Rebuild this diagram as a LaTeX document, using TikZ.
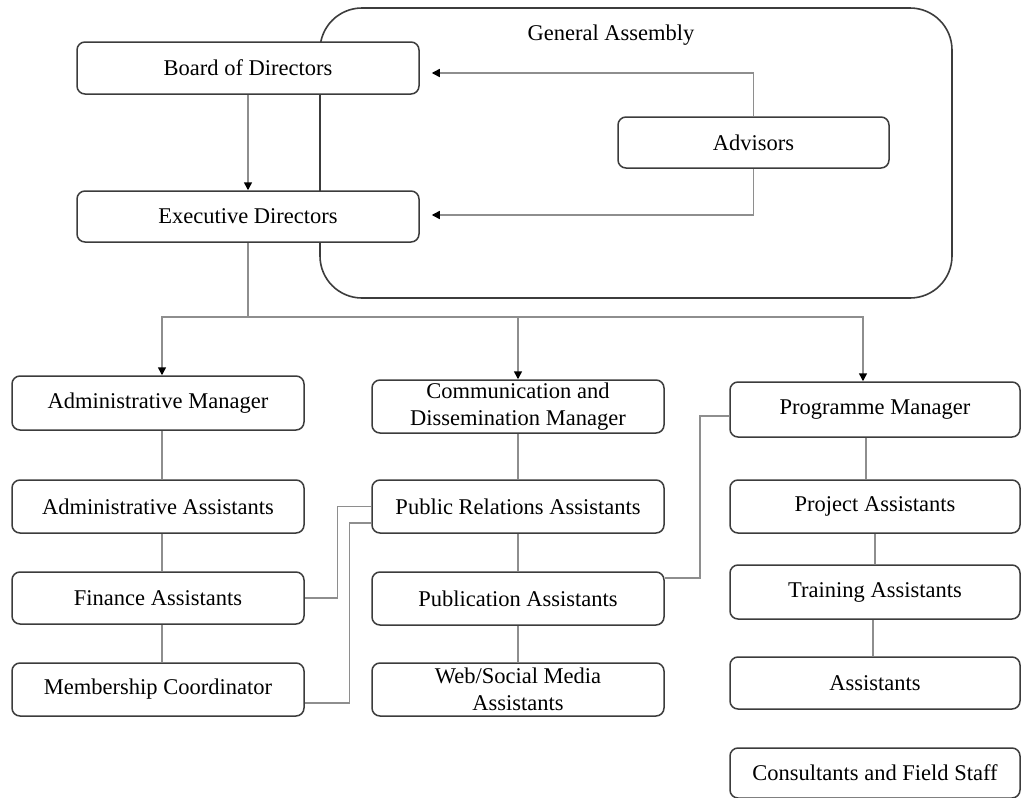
\documentclass[tikz,border=0pt]{standalone}
\usepackage{fontspec}
\setmainfont{Liberation Serif}
\usetikzlibrary{arrows.meta,calc}
\definecolor{boxline}{HTML}{3C3C3C}
\definecolor{linkline}{HTML}{8E8E8E}
\tikzset{
  unit/.style={draw=boxline, line width=1.5pt, fill=white, rounded corners=8pt,
    align=center, inner sep=1pt, font=\fontsize{22.5}{27}\selectfont},
  link/.style={draw=linkline, line width=1.5pt},
  tip/.style={link, -{Triangle[width=8pt,length=8pt,color=black]}},
}
\begin{document}
\begin{tikzpicture}[x=1pt,y=-1pt]
\useasboundingbox (0,0) rectangle (1021,798);

% General Assembly frame
\node[draw=boxline, line width=1.6pt, rounded corners=42pt, minimum width=632pt, minimum height=290pt] (ga) at (636,153) {};
\node[font=\fontsize{22.5}{27}\selectfont] (galabel) at (611,35) {General Assembly};

% Governing bodies
\node[unit, minimum width=342pt, minimum height=52pt] (bod) at (248,68) {Board of Directors};
\node[unit, minimum width=342pt, minimum height=51pt] (ed) at (248,216.5) {Executive Directors};
\node[unit, minimum width=271pt, minimum height=51pt] (adv) at (753.5,142.5) {Advisors};

\draw[tip] (bod.south) -- (ed.north);
\draw[tip] (adv.north) |- ([xshift=12pt,yshift=-5pt]bod.east);
\draw[tip] (adv.south) |- ([xshift=12pt,yshift=1.5pt]ed.east);

% Administration column
\node[unit, minimum width=292pt, minimum height=54pt] (am) at (158,403) {Administrative Manager};
\node[unit, minimum width=292pt, minimum height=53pt] (aa) at (158,506.5) {Administrative Assistants};
\node[unit, minimum width=292pt, minimum height=52pt] (fa) at (158,598) {Finance Assistants};
\node[unit, minimum width=292pt, minimum height=53pt] (mc) at (158,689.5) {Membership Coordinator};

% Communication column
\node[unit, minimum width=292pt, minimum height=53pt] (cd) at (518,406.5) {Communication and\\Dissemination Manager};
\node[unit, minimum width=292pt, minimum height=53pt] (pr) at (518,506.5) {Public Relations Assistants};
\node[unit, minimum width=292pt, minimum height=53pt] (pub) at (518,598.5) {Publication Assistants};
\node[unit, minimum width=292pt, minimum height=53pt] (web) at (518,689.5) {Web/Social Media\\Assistants};

% Programme column
\node[unit, minimum width=290pt, minimum height=55pt] (pm) at (875,409.5) {Programme Manager};
\node[unit, minimum width=290pt, minimum height=53pt] (pa) at (875,506.5) {Project Assistants};
\node[unit, minimum width=290pt, minimum height=54pt] (ta) at (875,592) {Training Assistants};
\node[unit, minimum width=290pt, minimum height=52pt] (as) at (875,683) {Assistants};
\node[unit, minimum width=290pt, minimum height=50pt] (cf) at (875,773) {Consultants and Field Staff};

% Distribution bus under the Executive Directors
\coordinate (bus) at (248,317);
\draw[link] (ed.south) -- (bus);
\draw[tip] (bus) -| ([xshift=4pt]am.north);
\draw[tip] (bus) -| (cd.north);
\draw[tip] (bus) -| ([xshift=-12pt]pm.north);

% Column links
\draw[link] ([xshift=4pt]am.south) -- ([xshift=4pt]aa.north);
\draw[link] ([xshift=4pt]aa.south) -- ([xshift=4pt]fa.north);
\draw[link] ([xshift=4pt]fa.south) -- ([xshift=4pt]mc.north);
\draw[link] (cd.south) -- (pr.north);
\draw[link] (pr.south) -- (pub.north);
\draw[link] (pub.south) -- (web.north);
\draw[link] ([xshift=-9pt]pm.south) -- ([xshift=-9pt]pa.north);
\draw[link] (pa.south) -- (ta.north);
\draw[link] ([xshift=-2pt]ta.south) -- ([xshift=-2pt]as.north);

% Cross links
\draw[link] (pr.west) -- ++(-34,0) |- (fa.east);
\draw[link] ([yshift=-16.5pt]pr.west) -- ++(-22,0) |- ([yshift=-13.5pt]mc.east);
\draw[link] ([yshift=20.5pt]pub.east) -- ++(35,0) |- ([yshift=-6.5pt]pm.west);
\end{tikzpicture}
\end{document}
